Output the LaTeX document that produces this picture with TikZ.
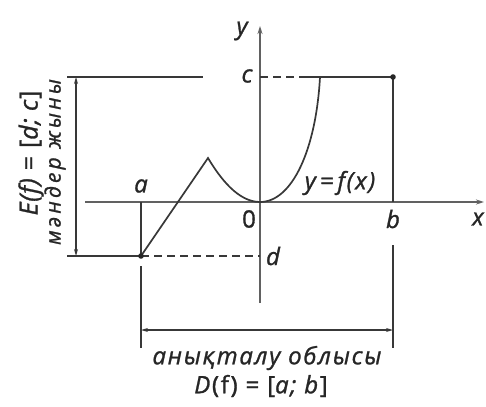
\documentclass[tikz,border=0pt]{standalone}
\usepackage{fontspec}
\setmainfont{Open Sans}
\newfontfamily\lblfont{Open Sans}[LetterSpace=7, FakeBold=1.2]
\newfontfamily\bigfont{Open Sans}[LetterSpace=3, FakeBold=1.2]
\newfontfamily\subfont{Open Sans}[LetterSpace=15, FakeBold=1.2]
\usetikzlibrary{arrows.meta}
\begin{document}
\begin{tikzpicture}[x=1pt,y=-1pt,
  ln/.style={line width=1.7pt, draw=black!78},
  ax/.style={line width=1.7pt, draw=black!62, -{Stealth[length=8pt,width=5pt]}},
  dim/.style={line width=1.4pt, draw=black!78, {Stealth[length=7pt,width=4pt]}-{Stealth[length=7pt,width=4pt]}},
  dsh/.style={line width=1.7pt, draw=black!78, dash pattern=on 8pt off 5pt},
  lbl/.style={font=\fontsize{24}{28}\lblfont\itshape, text=black!85, inner sep=0pt},
  big/.style={font=\fontsize{25}{29}\bigfont\itshape, text=black!85, inner sep=0pt},
  sub/.style={font=\fontsize{21}{25}\subfont\itshape, text=black!85, inner sep=0pt}]
\useasboundingbox (0,0) rectangle (486,406);
% key points
\coordinate (O) at (260,202);
\coordinate (xs) at (85,202);
\coordinate (xe) at (484,202);
\coordinate (ys) at (260,303);
\coordinate (ye) at (260,26);
\coordinate (A) at (141,256);
\coordinate (B) at (393,77);
\coordinate (P) at (208,158);
\coordinate (T) at (320,77);
\coordinate (C0) at (260,77);
\coordinate (Cs) at (305,77);
\coordinate (D0) at (260,256);
\coordinate (aX) at (141,202);
\coordinate (bX) at (393,202);
\coordinate (aL1) at (141,266);
\coordinate (aL2) at (141,348);
\coordinate (bL1) at (393,245);
\coordinate (bL2) at (393,348);
\coordinate (dimA) at (141,330);
\coordinate (dimB) at (393,330);
\coordinate (cL) at (67,77);
\coordinate (cR) at (203,77);
\coordinate (dL) at (67,256);
\coordinate (eT) at (76,77);
\coordinate (eB) at (76,256);
% axes
\draw[ax] (xs) -- (xe);
\draw[ax] (ys) -- (ye);
% graph
\draw[ln, line join=miter] (A) -- (P) .. controls (220,178) and (238,202) .. (O)
  .. controls (292,202) and (316,150) .. (T);
% c level
\draw[dsh] (C0) -- (Cs);
\draw[ln] (Cs) -- (B) -- (bX);
% d level
\draw[dsh] (A) -- (D0);
\draw[ln] (aX) -- (A);
\draw[ln] (dL) -- (A);
\draw[ln] (cL) -- (cR);
\draw[dim] (eT) -- (eB);
% domain
\draw[ln] (aL1) -- (aL2);
\draw[ln] (bL1) -- (bL2);
\draw[dim] (dimA) -- (dimB);
\fill[black!85] (A) circle (2.8pt);
\fill[black!85] (B) circle (2.8pt);
% labels
\node[lbl] (ly) at (242,31) {y};
\node[lbl] (lc) at (247,76) {c};
\node[lbl] (la) at (141,186) {a};
\node[lbl, font=\fontsize{24}{28}\lblfont] (l0) at (249,219) {0};
\node[lbl] (ld) at (273,256) {d};
\node[lbl] (lb) at (393,219) {b};
\node[lbl] (lx) at (478,219) {x};
\node[lbl] (lf) at (340,183) {y\,=\,f(x)};
\node[big, rotate=90] (lE) at (31,153) {E(f) \textup{=} \textup{[}d; c\textup{]}};
\node[sub, rotate=90] (lm) at (55,162) {мәндер жыны};
\node[lbl] (ldom) at (267,358) {анықталу облысы};
\node[lbl] (lD) at (261,386) {D\textup{(f) = [}a; b\textup{]}};
\end{tikzpicture}
\end{document}
